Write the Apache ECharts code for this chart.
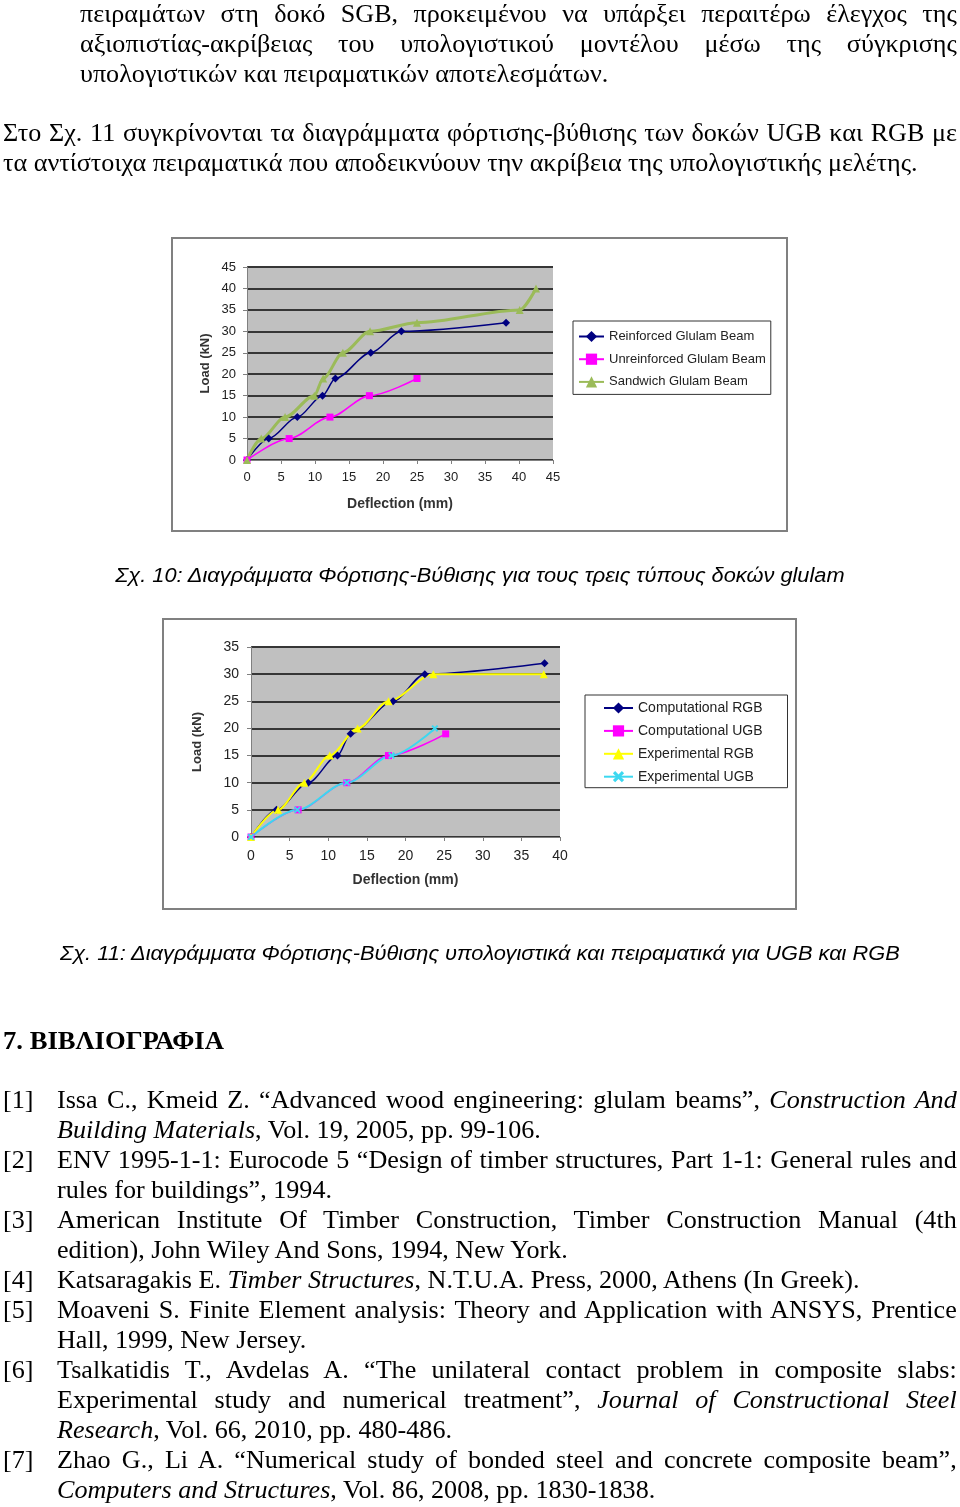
<!DOCTYPE html>
<html>
<head>
<meta charset="utf-8">
<script src="https://cdn.jsdelivr.net/npm/echarts@6/dist/echarts.min.js"></script>
<style>
html,body{margin:0;padding:0;background:#fff;}
#page{position:relative;width:960px;height:1507px;overflow:hidden;}
#chart{position:absolute;left:0;top:0;width:960px;height:1507px;}
.ln{position:absolute;height:30px;line-height:30px;font-family:"Liberation Serif","Times New Roman",serif;font-size:25px;color:#000;white-space:normal;overflow:visible;transform-origin:0 50%;transform:scaleX(1.045);}
.j{text-align:justify;text-align-last:justify;}
.cap{position:absolute;left:0;width:960px;text-align:center;font-family:"Liberation Sans",Arial,sans-serif;font-style:italic;font-size:20px;line-height:26px;height:26px;color:#000;transform-origin:481px 50%;transform:scaleX(1.09);}
.h{position:absolute;left:3px;font-family:"Liberation Serif","Times New Roman",serif;font-weight:bold;font-size:25px;line-height:30px;transform-origin:0 50%;transform:scaleX(1.065);}
</style>
</head>
<body>
<div id="page">
<div id="chart"></div>

<div class="ln j" style="left:80px;width:839px;top:-1px;">πειραμάτων στη δοκό SGB, προκειμένου να υπάρξει περαιτέρω έλεγχος της</div>
<div class="ln j" style="left:80px;width:839px;top:29px;">αξιοπιστίας-ακρίβειας του υπολογιστικού μοντέλου μέσω της σύγκρισης</div>
<div class="ln" style="left:80px;width:839px;top:59px;">υπολογιστικών και πειραματικών αποτελεσμάτων.</div>
<div class="ln j" style="left:3px;width:913px;top:118px;">Στο Σχ. 11 συγκρίνονται τα διαγράμματα φόρτισης-βύθισης των δοκών UGB και RGB με</div>
<div class="ln" style="left:3px;width:913px;top:148px;">τα αντίστοιχα πειραματικά που αποδεικνύουν την ακρίβεια της υπολογιστικής μελέτης.</div>

<div class="cap" style="top:562px;">Σχ. 10: Διαγράμματα Φόρτισης-Βύθισης για τους τρεις τύπους δοκών glulam</div>
<div class="cap" style="top:940px;">Σχ. 11: Διαγράμματα Φόρτισης-Βύθισης υπολογιστικά και πειραματικά για UGB και RGB</div>

<div class="h" style="top:1026px;">7. ΒΙΒΛΙΟΓΡΑΦΙΑ</div>

<div class="ln" style="left:3px;top:1085px;">[1]</div>
<div class="ln j" style="left:57px;width:861px;top:1085px;">Issa C., Kmeid Z. “Advanced wood engineering: glulam beams”, <i>Construction And</i></div>
<div class="ln" style="left:57px;width:861px;top:1115px;"><i>Building Materials</i>, Vol. 19, 2005, pp. 99-106.</div>
<div class="ln" style="left:3px;top:1145px;">[2]</div>
<div class="ln j" style="left:57px;width:861px;top:1145px;">ENV 1995-1-1: Eurocode 5 “Design of timber structures, Part 1-1: General rules and</div>
<div class="ln" style="left:57px;width:861px;top:1175px;">rules for buildings”, 1994.</div>
<div class="ln" style="left:3px;top:1205px;">[3]</div>
<div class="ln j" style="left:57px;width:861px;top:1205px;">American Institute Of Timber Construction, Timber Construction Manual (4th</div>
<div class="ln" style="left:57px;width:861px;top:1235px;">edition), John Wiley And Sons, 1994, New York.</div>
<div class="ln" style="left:3px;top:1265px;">[4]</div>
<div class="ln" style="left:57px;width:861px;top:1265px;">Katsaragakis E. <i>Timber Structures</i>, N.T.U.A. Press, 2000, Athens (In Greek).</div>
<div class="ln" style="left:3px;top:1295px;">[5]</div>
<div class="ln j" style="left:57px;width:861px;top:1295px;">Moaveni S. Finite Element analysis: Theory and Application with ANSYS, Prentice</div>
<div class="ln" style="left:57px;width:861px;top:1325px;">Hall, 1999, New Jersey.</div>
<div class="ln" style="left:3px;top:1355px;">[6]</div>
<div class="ln j" style="left:57px;width:861px;top:1355px;">Tsalkatidis T., Avdelas A. “The unilateral contact problem in composite slabs:</div>
<div class="ln j" style="left:57px;width:861px;top:1385px;">Experimental study and numerical treatment”, <i>Journal of Constructional Steel</i></div>
<div class="ln" style="left:57px;width:861px;top:1415px;"><i>Research</i>, Vol. 66, 2010, pp. 480-486.</div>
<div class="ln" style="left:3px;top:1445px;">[7]</div>
<div class="ln j" style="left:57px;width:861px;top:1445px;">Zhao G., Li A. “Numerical study of bonded steel and concrete composite beam”,</div>
<div class="ln" style="left:57px;width:861px;top:1475px;"><i>Computers and Structures</i>, Vol. 86, 2008, pp. 1830-1838.</div>
</div>

<script>
// ---- Chart 10 data (Deflection mm, Load kN) ----
const reinforcedX   = [0, 3.2, 7.4, 11.1, 13.0, 18.2, 22.7, 38.1];
const reinforcedY   = [0, 5, 10, 15, 19, 25, 30, 32];
const unreinforcedX = [0, 6.2, 12.2, 18.0, 25.0];
const unreinforcedY = [0, 5, 10, 15, 19];
const sandwichX     = [0, 2.1, 5.6, 9.9, 11.2, 14.1, 18.1, 25.0, 40.1, 42.5];
const sandwichY     = [0, 5, 10, 15, 19, 25, 30, 32, 35, 40];

// ---- Chart 11 data ----
const compRGBX = [0, 3.3, 7.4, 11.2, 12.9, 18.4, 22.5, 38.0];
const compRGBY = [0, 5, 10, 15, 19, 25, 30, 32];
const compUGBX = [0, 6.1, 12.4, 17.8, 25.2];
const compUGBY = [0, 5, 10, 15, 19];
const expRGBX  = [0, 3.5, 6.9, 10.2, 13.8, 17.8, 23.6, 37.9];
const expRGBY  = [0, 5, 10, 15, 20, 25, 30, 30];
const expUGBX  = [0, 6.0, 12.4, 18.2, 23.8];
const expUGBY  = [0, 5, 10, 15, 20];

const names1 = ['Reinforced Glulam Beam', 'Unreinforced Glulam Beam', 'Sandwich Glulam Beam'];
const names2 = ['Computational RGB', 'Computational UGB', 'Experimental RGB', 'Experimental UGB'];
const ticks1 = {min: 0, max: 45, interval: 5};
const ticks2X = {min: 0, max: 40, interval: 5};
const ticks2Y = {min: 0, max: 35, interval: 5};

function pairs(xs, ys) { return xs.map((x, i) => [x, ys[i]]); }

const FONT = '"Liberation Sans", Arial, sans-serif';
const xSym = 'path://M0,2 L2,0 L5,3 L8,0 L10,2 L7,5 L10,8 L8,10 L5,7 L2,10 L0,8 L3,5 Z';

function axisX(gridIndex, t, gap, fs, margin) {
  return {
    type: 'value', gridIndex: gridIndex, min: t.min, max: t.max, interval: t.interval,
    name: 'Deflection (mm)', nameLocation: 'middle', nameGap: gap,
    nameTextStyle: {fontFamily: FONT, fontWeight: 'bold', fontSize: 14, color: '#333'},
    axisLine: {show: true, onZero: false, lineStyle: {color: '#808080', width: 1}},
    axisTick: {show: true, length: 4, lineStyle: {color: '#808080'}},
    axisLabel: {fontFamily: FONT, fontSize: fs, color: '#222', margin: margin},
    splitLine: {show: false}
  };
}
function axisY(gridIndex, t, gap, fs, margin) {
  return {
    type: 'value', gridIndex: gridIndex, min: t.min, max: t.max, interval: t.interval,
    name: 'Load (kN)', nameLocation: 'middle', nameGap: gap, nameRotate: 90,
    nameTextStyle: {fontFamily: FONT, fontWeight: 'bold', fontSize: 13, color: '#333'},
    axisLine: {show: true, lineStyle: {color: '#808080', width: 1}},
    axisTick: {show: true, length: 4, lineStyle: {color: '#808080'}},
    axisLabel: {fontFamily: FONT, fontSize: fs, color: '#222', margin: margin},
    splitLine: {show: true, lineStyle: {color: '#363636', width: 2}}
  };
}
function lineSeries(name, xi, data, color, width, symbol, size, smooth) {
  return {
    name: name, type: 'line', xAxisIndex: xi, yAxisIndex: xi, data: data,
    smooth: smooth, smoothMonotone: 'x', symbol: symbol, symbolSize: size, showSymbol: true,
    lineStyle: {color: color, width: width}, itemStyle: {color: color},
    animation: false, z: 3
  };
}

const chart = echarts.init(document.getElementById('chart'), null, {renderer: 'canvas'});
chart.setOption({
  animation: false,
  graphic: [
    {type: 'rect', shape: {x: 172, y: 238, width: 615, height: 293}, style: {fill: '#fff', stroke: '#808080', lineWidth: 2}, z: -10},
    {type: 'rect', shape: {x: 163, y: 619, width: 633, height: 290}, style: {fill: '#fff', stroke: '#808080', lineWidth: 2}, z: -10}
  ],
  grid: [
    {left: 247, top: 267, width: 306, height: 193, show: true, backgroundColor: '#c0c0c0', borderWidth: 0, containLabel: false},
    {left: 251, top: 647, width: 309, height: 190, show: true, backgroundColor: '#c0c0c0', borderWidth: 0, containLabel: false}
  ],
  xAxis: [axisX(0, ticks1, 37, 13, 11), axisX(1, ticks2X, 36, 14, 12)],
  yAxis: [axisY(0, ticks1, 35, 13, 11), axisY(1, ticks2Y, 47, 14, 12)],
  legend: [
    {data: names1, orient: 'vertical', left: 573, top: 321, padding: [9, 5, 6, 5], itemGap: 9.7,
     itemWidth: 25, itemHeight: 14, backgroundColor: '#fff', borderColor: '#333', borderWidth: 1,
     textStyle: {fontFamily: FONT, fontSize: 13, color: '#222'}},
    {data: names2, orient: 'vertical', left: 585, top: 695, padding: [6, 25, 4, 18], itemGap: 8.9,
     itemWidth: 29, itemHeight: 14, backgroundColor: '#fff', borderColor: '#333', borderWidth: 1,
     textStyle: {fontFamily: FONT, fontSize: 14, color: '#222'}}
  ],
  series: [
    lineSeries(names1[0], 0, pairs(reinforcedX, reinforcedY), '#000080', 1.5, 'diamond', 8, 0.3),
    lineSeries(names1[1], 0, pairs(unreinforcedX, unreinforcedY), '#ff00ff', 1.5, 'rect', 7, 0.3),
    lineSeries(names1[2], 0, pairs(sandwichX, sandwichY), '#9bbb59', 3, 'triangle', 8, 0.3),
    lineSeries(names2[0], 1, pairs(compRGBX, compRGBY), '#000080', 1.5, 'diamond', 8, 0.3),
    lineSeries(names2[1], 1, pairs(compUGBX, compUGBY), '#ff00ff', 1.5, 'rect', 7, 0.3),
    lineSeries(names2[2], 1, pairs(expRGBX, expRGBY), '#ffff00', 2, 'triangle', 8, 0.3),
    lineSeries(names2[3], 1, pairs(expUGBX, expUGBY), '#3cd8f0', 2, xSym, 7, 0.3)
  ]
});
</script>
</body>
</html>
